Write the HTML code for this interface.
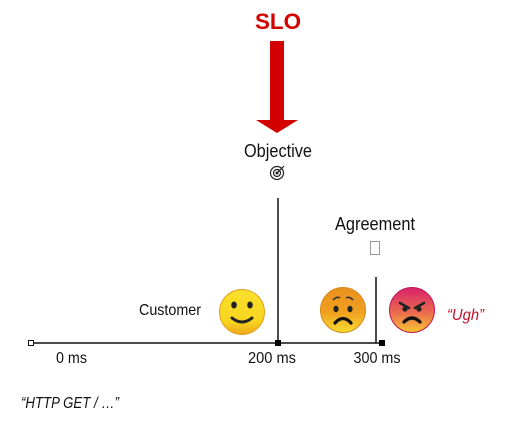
<!DOCTYPE html>
<html><head><meta charset="utf-8"><style>
html,body{margin:0;padding:0;background:#fff;width:510px;height:426px;overflow:hidden}
text{font-family:"Liberation Sans",sans-serif}
</style></head><body>
<svg width="510" height="426" viewBox="0 0 510 426" xmlns="http://www.w3.org/2000/svg">
<defs>
<linearGradient id="g1" x1="0" y1="0" x2="0" y2="1"><stop offset="0" stop-color="#fbe12c"/><stop offset="0.7" stop-color="#f7d51e"/><stop offset="1" stop-color="#f0a81c"/></linearGradient>
<linearGradient id="g2" x1="0" y1="0" x2="0" y2="1"><stop offset="0" stop-color="#ec9020"/><stop offset="0.55" stop-color="#f0a020"/><stop offset="1" stop-color="#f8dc30"/></linearGradient>
<linearGradient id="g3" x1="0" y1="0" x2="0" y2="1"><stop offset="0" stop-color="#d8226a"/><stop offset="0.55" stop-color="#ea6a50"/><stop offset="1" stop-color="#f7c530"/></linearGradient>
</defs>
<text x="278" y="29" text-anchor="middle" font-size="22" font-weight="bold" fill="#d40000" textLength="46" lengthAdjust="spacingAndGlyphs">SLO</text>
<rect x="270" y="41" width="14" height="80" fill="#d40000"/>
<polygon points="256,120 298,120 277,133" fill="#d40000"/>
<text x="278" y="157" text-anchor="middle" font-size="18" fill="#111" textLength="68" lengthAdjust="spacingAndGlyphs">Objective</text>
<g fill="none" stroke="#222" stroke-width="1.2"><circle cx="277" cy="173" r="6.5"/><circle cx="277" cy="173" r="3.5"/><line x1="277" y1="173" x2="284" y2="166"/></g>
<circle cx="277" cy="173" r="1.5" fill="#222"/>
<line x1="278" y1="198" x2="278" y2="343" stroke="#111" stroke-width="1.5"/>
<text x="375" y="230" text-anchor="middle" font-size="18" fill="#111" textLength="80" lengthAdjust="spacingAndGlyphs">Agreement</text>
<rect x="370.5" y="241.5" width="9" height="13" fill="none" stroke="#999"/>
<line x1="376" y1="277" x2="376" y2="343" stroke="#111" stroke-width="1.5"/>
<line x1="31" y1="343" x2="382" y2="343" stroke="#111" stroke-width="1.5"/>
<rect x="28.5" y="340.5" width="5" height="5" fill="#fff" stroke="#111"/>
<rect x="275" y="340" width="6" height="6" fill="#000"/>
<rect x="379" y="340" width="6" height="6" fill="#000"/>
<text x="56" y="363" font-size="16" fill="#111" textLength="31" lengthAdjust="spacingAndGlyphs">0 ms</text>
<text x="272" y="363" text-anchor="middle" font-size="16" fill="#111" textLength="48" lengthAdjust="spacingAndGlyphs">200 ms</text>
<text x="377" y="363" text-anchor="middle" font-size="16" fill="#111" textLength="47" lengthAdjust="spacingAndGlyphs">300 ms</text>
<text x="139" y="315" font-size="16" fill="#111" textLength="62" lengthAdjust="spacingAndGlyphs">Customer</text>
<circle cx="242" cy="312" r="22.5" fill="url(#g1)" stroke="#e5a020" stroke-width="1"/>
<ellipse cx="234" cy="305" rx="2.8" ry="3.5" fill="#222"/><ellipse cx="250" cy="305" rx="2.8" ry="3.5" fill="#222"/>
<path d="M232 318 Q242 326 252 318" fill="none" stroke="#222" stroke-width="3" stroke-linecap="round"/>
<circle cx="343" cy="310" r="22.5" fill="url(#g2)" stroke="#d88a1c" stroke-width="1"/>
<path d="M333 300 Q337 296 340 298 M346 298 Q349 296 353 300" fill="none" stroke="#333" stroke-width="1.6"/>
<ellipse cx="336" cy="309" rx="2.6" ry="3.2" fill="#222"/><ellipse cx="350" cy="309" rx="2.6" ry="3.2" fill="#222"/>
<path d="M335 323 Q343 314 351 323" fill="none" stroke="#111" stroke-width="3.2" stroke-linecap="round"/>
<circle cx="412" cy="310" r="22.5" fill="url(#g3)" stroke="#c21a5a" stroke-width="1"/>
<path d="M400 303 L409 308 M424 303 L415 308" stroke="#222" stroke-width="2.6" stroke-linecap="round"/>
<circle cx="405" cy="309" r="2.6" fill="#222"/><circle cx="419" cy="309" r="2.6" fill="#222"/>
<path d="M404 322 Q412 314 420 322" fill="none" stroke="#111" stroke-width="3.2" stroke-linecap="round"/>
<text x="447" y="320" font-size="16" font-style="italic" fill="#c0102a" textLength="37" lengthAdjust="spacingAndGlyphs">“Ugh”</text>
<text x="21" y="408" font-size="16" font-style="italic" fill="#111" textLength="98" lengthAdjust="spacingAndGlyphs">“HTTP GET / …”</text>
</svg>
</body></html>
